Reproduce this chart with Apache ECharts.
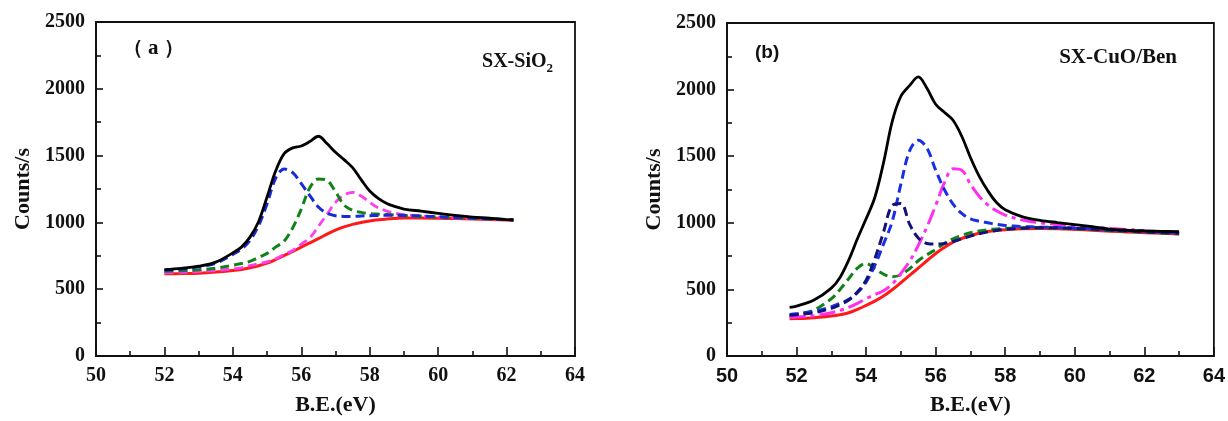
<!DOCTYPE html>
<html>
<head>
<meta charset="utf-8">
<script src="https://cdn.jsdelivr.net/npm/echarts@6/dist/echarts.min.js"></script>
<style>
  html, body { margin: 0; padding: 0; background: #fff; }
  #chart { width: 1228px; height: 421px; }
</style>
</head>
<body>
<div id="chart"></div>
<script>
// Si 2p XPS fits, panel (a): SX-SiO2
const beA = [52, 52.5, 53, 53.5, 54, 54.25, 54.5, 54.75, 55, 55.25, 55.5, 55.75, 56, 56.25, 56.5, 56.75,
  57, 57.25, 57.5, 57.75, 58, 58.25, 58.5, 58.75, 59, 59.5, 60, 60.5, 61, 61.5, 62, 62.2];
const totalA = [647, 656, 672, 703, 772, 815, 890, 1005, 1190, 1385, 1515, 1558, 1572, 1605, 1645, 1590,
  1525, 1470, 1410, 1320, 1235, 1180, 1142, 1118, 1100, 1084, 1068, 1052, 1040, 1031, 1021, 1018];
const peak1A = [640, 650, 667, 695, 760, 800, 865, 975, 1140, 1330, 1400, 1372, 1290, 1200, 1115, 1068,
  1050, 1045, 1045, 1048, 1050, 1052, 1053, 1053, 1052, 1048, 1042, 1037, 1032, 1027, 1022, 1020];
const peak2A = [634, 638, 645, 657, 680, 692, 708, 738, 768, 815, 860, 960, 1100, 1260, 1325, 1315,
  1230, 1130, 1090, 1075, 1066, 1062, 1059, 1055, 1052, 1046, 1040, 1035, 1030, 1026, 1021, 1019];
const peak3A = [622, 626, 632, 640, 652, 660, 676, 690, 705, 727, 760, 790, 838, 885, 970, 1060,
  1150, 1205, 1225, 1198, 1150, 1108, 1085, 1068, 1058, 1048, 1040, 1034, 1029, 1024, 1020, 1018];
const backgroundA = [615, 617, 620, 628, 640, 648, 660, 675, 695, 722, 752, 782, 815, 847, 878, 912,
  942, 966, 985, 999, 1010, 1019, 1026, 1030, 1033, 1033, 1031, 1029, 1026, 1022, 1018, 1016];

// Panel (b): SX-CuO/Ben
const beB = [51.8, 52, 52.5, 53, 53.25, 53.5, 53.75, 54, 54.25, 54.5, 54.75, 55, 55.25, 55.5, 55.75, 56,
  56.25, 56.5, 56.75, 57, 57.25, 57.5, 57.75, 58, 58.5, 59, 59.5, 60, 60.5, 61, 61.5, 62, 62.5, 63];
const totalB = [365, 375, 420, 510, 590, 720, 880, 1030, 1190, 1450, 1760, 1950, 2030, 2095, 2010, 1890,
  1830, 1770, 1650, 1490, 1350, 1240, 1152, 1098, 1045, 1019, 1002, 987, 971, 953, 945, 940, 936, 933];
const peakNavyB = [305, 310, 325, 358, 385, 420, 480, 570, 730, 930, 1130, 1145, 990, 885, 845, 840,
  845, 860, 880, 900, 918, 932, 943, 950, 960, 963, 962, 958, 952, 945, 938, 932, 926, 920];
const peakBlueB = [312, 318, 335, 370, 395, 425, 475, 555, 680, 840, 1010, 1290, 1540, 1620, 1560, 1395,
  1250, 1140, 1070, 1030, 1012, 1000, 988, 980, 972, 968, 965, 960, 955, 948, 942, 936, 930, 925];
const peakGreenB = [300, 310, 345, 430, 500, 580, 660, 695, 655, 615, 595, 610, 655, 715, 760, 800,
  845, 880, 905, 925, 938, 948, 954, 958, 962, 962, 960, 955, 949, 942, 936, 930, 924, 918];
const peakMagentaB = [290, 292, 302, 325, 342, 365, 395, 430, 460, 490, 540, 620, 710, 830, 970, 1130,
  1300, 1405, 1395, 1290, 1200, 1135, 1090, 1058, 1020, 1000, 988, 976, 967, 958, 950, 940, 933, 928];
const backgroundB = [280, 281, 288, 300, 310, 325, 350, 380, 412, 450, 497, 550, 605, 660, 715, 770,
  815, 855, 882, 905, 922, 935, 943, 948, 955, 957, 955, 950, 944, 937, 931, 926, 921, 916];

const xTicks = { min: 50, max: 64, interval: 2 };
const yTicks = { min: 0, max: 2500, interval: 500 };

const SERIF = '"Liberation Serif", "Times New Roman", serif';
const SANS = '"Liberation Sans", Arial, sans-serif';

function pairs(xs, ys) { return xs.map((x, i) => [x, ys[i]]); }

function xAxisFor(gridIndex, labelFont) {
  return {
    type: 'value', gridIndex, min: xTicks.min, max: xTicks.max, interval: xTicks.interval,
    name: 'B.E.(eV)', nameLocation: 'middle', nameGap: 38,
    nameTextStyle: { fontFamily: SERIF, fontWeight: 'bold', fontSize: 22, color: '#111' },
    axisLine: { show: true, onZero: false, lineStyle: { color: '#111', width: 1.8 } },
    axisTick: { show: true, inside: true, length: 9, lineStyle: { color: '#111', width: 1.6 } },
    minorTick: { show: true, splitNumber: 2, length: 5, lineStyle: { color: '#111', width: 1.6 } },
    axisLabel: { fontFamily: labelFont, fontWeight: 'bold', fontSize: 20, color: '#111', margin: 10,
      formatter: v => String(v) },
    splitLine: { show: false }
  };
}
function yAxisFor(gridIndex) {
  return {
    type: 'value', gridIndex, min: yTicks.min, max: yTicks.max, interval: yTicks.interval,
    name: 'Counts/s', nameLocation: 'middle', nameGap: 62, nameRotate: 90,
    nameTextStyle: { fontFamily: SERIF, fontWeight: 'bold', fontSize: 22, color: '#111' },
    axisLine: { show: true, onZero: false, lineStyle: { color: '#111', width: 1.8 } },
    axisTick: { show: true, inside: true, length: 7, lineStyle: { color: '#111', width: 1.6 } },
    minorTick: { show: true, splitNumber: 2, length: 5, lineStyle: { color: '#111', width: 1.6 } },
    axisLabel: { fontFamily: SERIF, fontWeight: 'bold', fontSize: 20, color: '#111', margin: 11,
      formatter: v => String(v) },
    splitLine: { show: false }
  };
}

function line(idx, xs, ys, color, type, width) {
  return {
    type: 'line', xAxisIndex: idx, yAxisIndex: idx, data: pairs(xs, ys),
    showSymbol: false, symbol: 'none', smooth: 0.35, silent: true,
    lineStyle: { color, width, type, cap: 'butt' }
  };
}

const dash = [9, 5];
const dashDot = [16, 5, 4, 5];

const option = {
  backgroundColor: '#fff',
  animation: false,
  grid: [
    { left: 96, right: 653, top: 22, bottom: 59, show: true, borderColor: '#111', borderWidth: 1.8 },
    { left: 727, right: 13, top: 23, bottom: 60, show: true, borderColor: '#111', borderWidth: 1.8 }
  ],
  title: [
    { text: '{pl|（}{m|a}{pr|）}', left: 118, top: 33,
      textStyle: { rich: {
        pl: { fontFamily: SERIF, fontWeight: 'bold', fontSize: 20, color: '#111', padding: [0, 5, 0, 0] },
        pr: { fontFamily: SERIF, fontWeight: 'bold', fontSize: 20, color: '#111', padding: [0, 0, 0, 5] },
        m: { fontFamily: SERIF, fontWeight: 'bold', fontSize: 21, color: '#111' }
      } } },
    { text: '{m|SX-SiO}{s|2}', right: 670, top: 44,
      textStyle: { rich: {
        m: { fontFamily: SERIF, fontWeight: 'bold', fontSize: 20, color: '#111' },
        s: { fontFamily: SERIF, fontWeight: 'bold', fontSize: 13, color: '#111', padding: [13, 0, 0, 0] }
      } } },
    { text: '(b)', left: 750, top: 38, textStyle: { fontFamily: SANS, fontWeight: 'bold', fontSize: 19, color: '#111' } },
    { text: 'SX-CuO/Ben', right: 46, top: 42, textStyle: { fontFamily: SERIF, fontWeight: 'bold', fontSize: 21, color: '#111' } }
  ],
  xAxis: [xAxisFor(0, SERIF), xAxisFor(1, SANS)],
  yAxis: [yAxisFor(0), yAxisFor(1)],
  series: [
    line(0, beA, backgroundA, '#ff1a1a', 'solid', 3),
    line(0, beA, peak3A, '#ff3df0', dash, 2.8),
    line(0, beA, peak2A, '#11821a', dash, 3),
    line(0, beA, peak1A, '#1a2ad6', dash, 3),
    line(0, beA, totalA, '#000000', 'solid', 2.8),

    line(1, beB, backgroundB, '#ff1a1a', 'solid', 3),
    line(1, beB, peakGreenB, '#11821a', dash, 3),
    line(1, beB, peakMagentaB, '#ff2ef0', dashDot, 3),
    line(1, beB, peakBlueB, '#1a2ee6', dash, 3),
    line(1, beB, peakNavyB, '#12127a', dash, 3),
    line(1, beB, totalB, '#000000', 'solid', 2.8)
  ]
};

const chart = echarts.init(document.getElementById('chart'), null, { renderer: 'canvas' });
chart.setOption(option);
</script>
</body>
</html>
